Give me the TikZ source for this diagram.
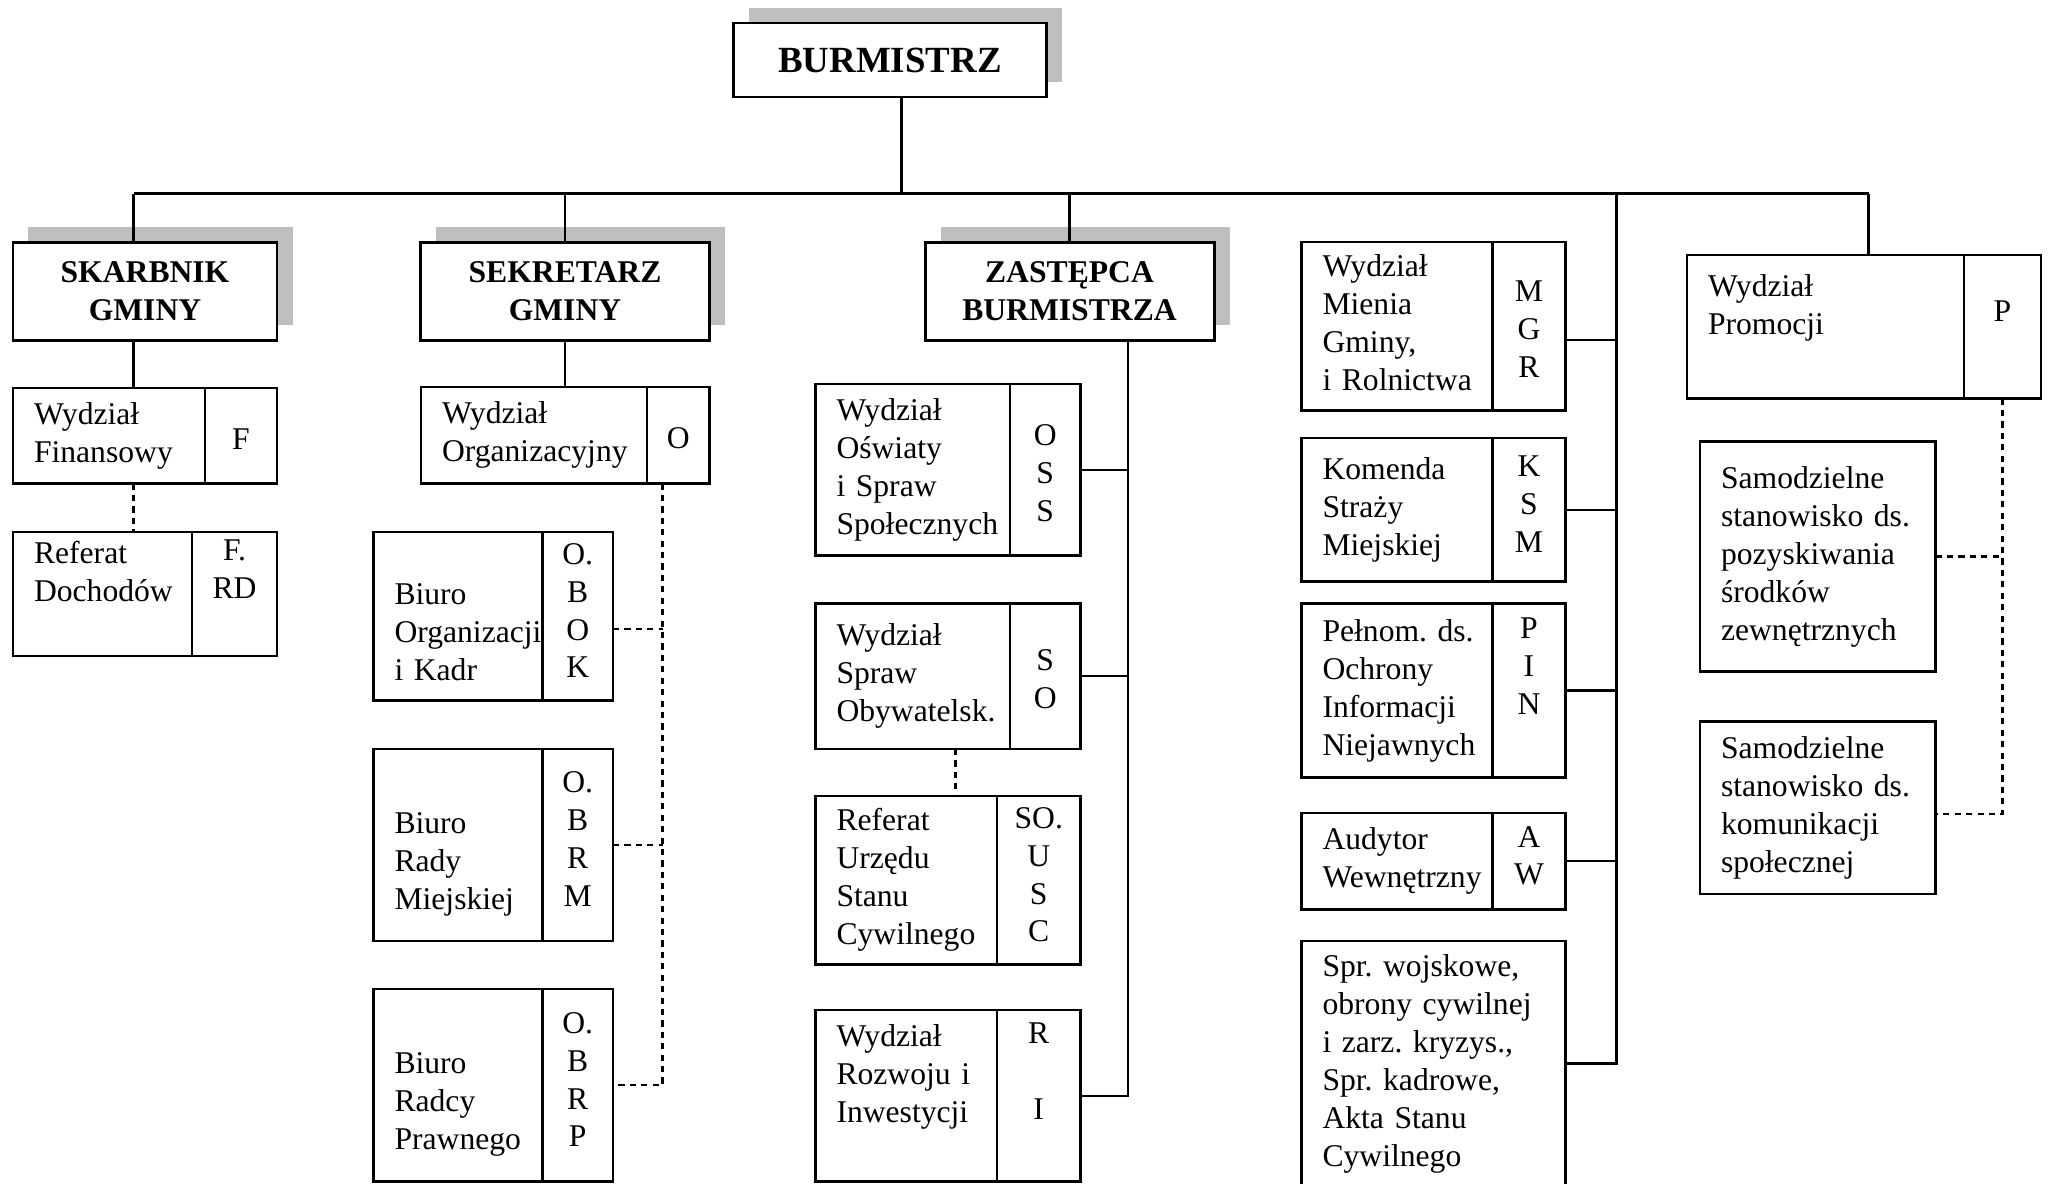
\documentclass[tikz,border=0pt]{standalone}
\usepackage{fontspec}
\setmainfont{Liberation Serif}
\usetikzlibrary{positioning,shadows}

\newcommand{\tekst}{\fontsize{18}{21.6}\selectfont\hyphenpenalty=10000 }
% komorka z kolumna symbolu: nazwa, rog, szer. tekstu, szer. symbolu, wysokosc, tekst, symbol
\newcommand{\dzial}[7]{%
  \node[komorka, text width=#3cm, minimum height=#5cm, anchor=north west] (#1) at (#2) {#6};
  \node[komorka, kod, minimum width=#4cm, minimum height=#5cm, anchor=north west] (#1-k) at (#1.north east) {#7};}

\tikzset{
  komorka/.style={draw, line width=1.6pt, outer sep=0pt, inner xsep=0.42cm, inner ysep=0pt,
    align=left, font=\tekst, execute at begin node=\strut, execute at end node=\strut},
  kod/.style={align=center, inner xsep=0pt},
  tytul/.style={draw, line width=1.7pt, outer sep=0pt, fill=white, align=center, font=\tekst\bfseries,
    drop shadow={shadow xshift=0.31cm, shadow yshift=0.31cm, fill=gray!50, opacity=1}},
  linia/.style={line width=1.4pt},
  przerywana/.style={line width=1.4pt, dash pattern=on 3.5pt off 3pt},
}

\begin{document}
\begin{tikzpicture}
  \useasboundingbox (0,0) rectangle (40.98,-23.66);
  \clip (0,0) rectangle (40.98,-23.66);
  % kierownictwo
  \node[tytul, minimum width=6.27cm, minimum height=1.48cm, font=\fontsize{21}{25}\selectfont\bfseries] (burmistrz) at (17.80,-1.20) {BURMISTRZ};
  \node[tytul, minimum width=5.28cm, minimum height=1.96cm] (skarbnik) at (2.90,-5.82) {SKARBNIK\\GMINY};
  \node[tytul, minimum width=5.77cm, minimum height=1.96cm] (sekretarz) at (11.30,-5.82) {SEKRETARZ\\GMINY};
  \node[tytul, minimum width=5.78cm, minimum height=1.96cm] (zastepca) at (21.39,-5.82) {ZASTĘPCA\\BURMISTRZA};

  % skarbnik
  \dzial{finanse}{0.26,-7.76}{3.00}{1.44}{1.91}{Wydział\\Finansowy}{~\\F}
  \dzial{dochody}{0.26,-10.64}{2.74}{1.70}{2.48}{Referat\\Dochodów\\~}{F.\\RD\\~}
  % sekretarz
  \dzial{organiz}{8.42,-7.74}{3.68}{1.25}{1.93}{Wydział\\Organizacyjny}{~\\O}
  \dzial{biurook}{7.47,-10.64}{2.54}{1.41}{3.37}{~\\Biuro\\Organizacji\\i~Kadr}{O.\\B\\O\\K}
  \dzial{biurorm}{7.47,-14.98}{2.54}{1.41}{3.84}{~\\Biuro\\Rady\\Miejskiej}{O.\\B\\R\\M}
  \dzial{biurorp}{7.47,-19.78}{2.54}{1.41}{3.85}{~\\Biuro\\Radcy\\Prawnego}{O.\\B\\R\\P}
  % zastepca
  \dzial{oswiata}{16.31,-7.68}{3.05}{1.41}{3.43}{Wydział\\Oświaty\\i~Spraw\\Społecznych}{~\\O\\S\\S}
  \dzial{obywat}{16.31,-12.07}{3.05}{1.41}{2.91}{Wydział\\Spraw\\Obywatelsk.}{~\\S\\O}
  \dzial{usc}{16.31,-15.92}{2.79}{1.67}{3.37}{Referat\\Urzędu\\Stanu\\Cywilnego}{SO.\\U\\S\\C}
  \dzial{rozwoj}{16.31,-20.20}{2.79}{1.67}{3.43}{Wydział\\Rozwoju~i\\Inwestycji\\~}{R\\~\\I\\~}
  % podlegle burmistrzowi
  \dzial{mienie}{26.03,-4.84}{2.98}{1.46}{3.37}{Wydział\\Mienia\\Gminy,\\i~Rolnictwa}{~\\M\\G\\R}
  \dzial{straz}{26.03,-8.76}{2.98}{1.46}{2.87}{Komenda\\Straży\\Miejskiej}{K\\S\\M}
  \dzial{pin}{26.03,-12.07}{2.98}{1.46}{3.48}{Pełnom.~ds.\\Ochrony\\Informacji\\Niejawnych}{P\\I\\N\\~}
  \dzial{audytor}{26.03,-16.26}{2.98}{1.46}{1.93}{Audytor\\Wewnętrzny}{A\\W}
  \node[komorka, text width=4.44cm, minimum height=4.90cm, anchor=north west] (wojsko) at (26.03,-18.82)
    {Spr.~wojskowe,\\obrony~cywilnej\\i~zarz.~kryzys.,\\Spr.~kadrowe,\\Akta~Stanu\\Cywilnego};
  % promocja
  \dzial{promocja}{33.74,-5.10}{4.70}{1.54}{2.87}{Wydział\\Promocji\\~}{~\\P\\~}
  \node[komorka, text width=3.87cm, minimum height=4.60cm, anchor=north west] (fundusze) at (34.00,-8.83)
    {Samodzielne\\stanowisko~ds.\\pozyskiwania\\środków\\zewnętrznych};
  \node[komorka, text width=3.87cm, minimum height=3.45cm, anchor=north west] (komunik) at (34.00,-14.43)
    {Samodzielne\\stanowisko~ds.\\komunikacji\\społecznej};

  % linie podleglosci
  \coordinate (s1) at (2.67,-3.87);
  \coordinate (s2) at (37.37,-3.87);
  \coordinate (pion) at (32.33,-3.87);
  \draw[linia] (s1) -- (s2);
  \draw[linia] ([xshift=0.23cm]burmistrz.south) coordinate (t) -- (t |- s1);
  \draw[linia] (s1) -- (s1 |- skarbnik.north);
  \draw[linia] (sekretarz.north |- s1) -- (sekretarz.north);
  \draw[linia] (zastepca.north |- s1) -- (zastepca.north);
  \draw[linia] (s2) -- (s2 |- promocja.north);
  \draw[linia] (pion) |- (wojsko.east);
  \foreach \n/\dy in {mienie/-0.27, straz/0, pin/0, audytor/0}
    \draw[linia] ([yshift=\dy cm]\n-k.east) coordinate (p) -- (p -| pion);

  \draw[linia] (s1 |- skarbnik.south) -- (s1 |- finanse.north);
  \draw[przerywana] (s1 |- finanse.south) -- (s1 |- dochody.north);

  \draw[linia] (sekretarz.south) -- (sekretarz.south |- organiz.north);
  \draw[przerywana] ([xshift=0.31cm]organiz.south east) coordinate (op) |- (biurorp-k.east);
  \foreach \n/\dy in {biurook/-0.25, biurorm/0}
    \draw[przerywana] ([yshift=\dy cm]\n-k.east) coordinate (p) -- (p -| op);

  \draw[linia] ([xshift=1.17cm]zastepca.south) coordinate (zp) |- (rozwoj-k.east);
  \foreach \n in {oswiata, obywat}
    \draw[linia] (\n-k.east) -- (\n-k.east -| zp);
  \draw[przerywana] ([xshift=-1.09cm]obywat.south east) coordinate (u) -- (u |- usc.north);

  \draw[przerywana] (promocja-k.south) |- ([yshift=-0.12cm]komunik.east);
  \draw[przerywana] (fundusze.east) -- (fundusze.east -| promocja-k.south);
\end{tikzpicture}
\end{document}
